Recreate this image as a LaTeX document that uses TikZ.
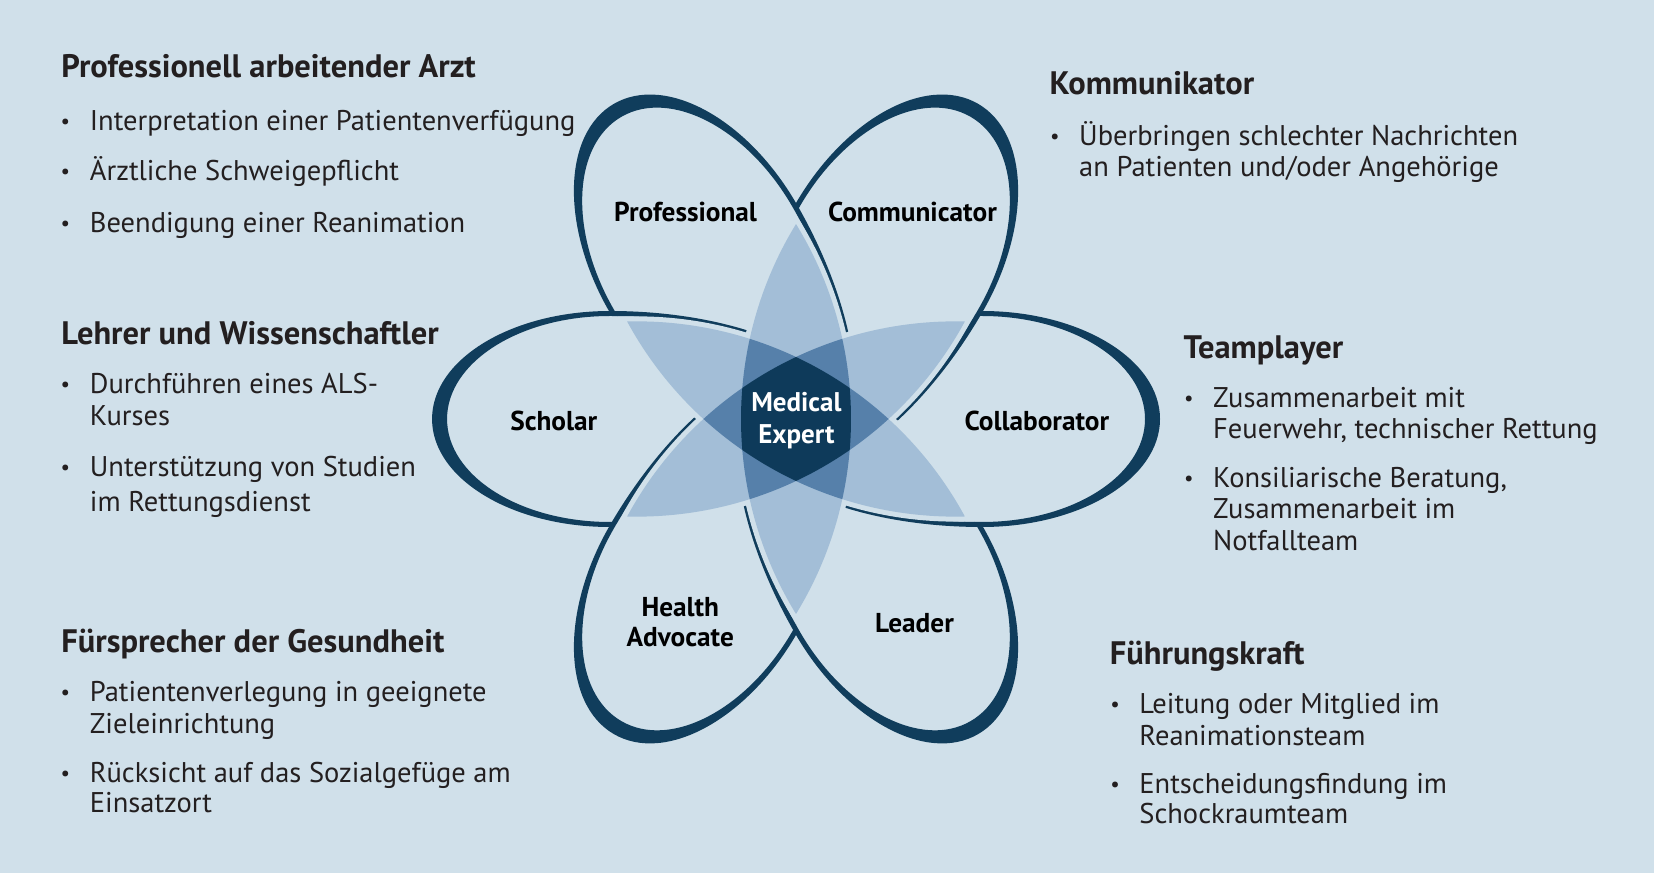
\documentclass[tikz,border=0pt]{standalone}
\usepackage{fontspec}
\setmainfont{PT Sans}
\definecolor{bg}{RGB}{208,224,234}
\definecolor{ol}{RGB}{16,61,92}
\definecolor{lt}{RGB}{163,190,215}
\definecolor{md}{RGB}{86,128,170}
\definecolor{dk}{RGB}{14,58,90}
\definecolor{tx}{RGB}{35,31,32}
\newcommand{\petalpath}{%
 (364,0) arc[start angle=0,end angle=90,x radius=178,y radius=108]
 arc[start angle=90,end angle=140.8,x radius=240,y radius=108]
 arc[start angle=39.2,end angle=90,x radius=240,y radius=108]
 arc[start angle=90,end angle=180,x radius=178,y radius=108]
 arc[start angle=180,end angle=270,x radius=178,y radius=108]
 arc[start angle=270,end angle=320.8,x radius=240,y radius=108]
 arc[start angle=219.2,end angle=270,x radius=240,y radius=108]
 arc[start angle=270,end angle=360,x radius=178,y radius=108] -- cycle
 (349,0) arc[start angle=0,end angle=90,x radius=163,y radius=103]
 arc[start angle=90,end angle=140.8,x radius=240,y radius=103]
 arc[start angle=39.2,end angle=90,x radius=240,y radius=103]
 arc[start angle=90,end angle=180,x radius=163,y radius=103]
 arc[start angle=180,end angle=270,x radius=163,y radius=103]
 arc[start angle=270,end angle=320.8,x radius=240,y radius=103]
 arc[start angle=219.2,end angle=270,x radius=240,y radius=103]
 arc[start angle=270,end angle=360,x radius=163,y radius=103] -- cycle}
\newcommand{\lenspath}{(-195,0) arc[start angle=121.5,end angle=58.5,radius=373.2] arc[start angle=-58.5,end angle=-121.5,radius=373.2] -- cycle}
\newcommand{\wedgeclip}{(0,0) -- (-90:900) -- (-30:900) -- (30:900) -- cycle (0,0) -- (90:900) -- (150:900) -- (210:900) -- cycle}
\tikzset{
 head/.style={font=\fontsize{32.5}{38}\selectfont\bfseries, text=tx, anchor=base west, inner sep=0},
 body/.style={font=\fontsize{28.5}{34}\selectfont, text=tx, anchor=base west, inner sep=0},
 bul/.style={font=\fontsize{21}{24}\selectfont, text=tx, anchor=base, inner sep=0, yshift=2},
 lab/.style={font=\fontsize{27.3}{30.5}\selectfont\bfseries, text=black, align=center, inner sep=0},
 mid/.style={font=\fontsize{27}{31.5}\selectfont\bfseries, text=white, align=center, inner sep=0},
}
\begin{document}
\begin{tikzpicture}[x=1pt,y=1pt]
\useasboundingbox (0,0) rectangle (1654,873);
\fill[bg] (0,0) rectangle (1654,873);
\coordinate (C) at (796,454);
% woven outlines
\foreach \k in {0,1,2}{
 \begin{scope}[shift={(C)}, rotate=60*\k]
  \clip \wedgeclip;
  \fill[ol, even odd rule] \petalpath;
 \end{scope}
}
% star
\begin{scope}[shift={(C)}]
 \foreach \a in {90,30,-30}{ \draw[bg, line width=10, line join=round, rotate=\a] \lenspath; }
 \foreach \a in {90,30,-30}{ \fill[lt, rotate=\a] \lenspath; }
 \begin{scope} \clip[rotate=90] \lenspath; \fill[md, rotate=30] \lenspath; \fill[md, rotate=-30] \lenspath; \end{scope}
 \begin{scope} \clip[rotate=30] \lenspath; \fill[md, rotate=-30] \lenspath; \end{scope}
 \begin{scope} \clip[rotate=90] \lenspath; \clip[rotate=30] \lenspath; \fill[dk, rotate=-30] \lenspath; \end{scope}
\end{scope}
% petal labels
\node[lab] (prof) at (685.6,661) {Professional};
\node[lab] (comm) at (912.4,661) {Communicator};
\node[lab] (scho) at (553.8,452.1) {Scholar};
\node[lab] (coll) at (1036.9,452.1) {Collaborator};
\node[lab] (heal) at (680.3,250.7) {Health\\Advocate};
\node[lab] (lead) at (914.5,249.6) {Leader};
\node[mid] (medx) at (796.4,452.5) {Medical\\Expert};
% left column
\node[head] (h1) at (61.2,795.4) {Professionell arbeitender Arzt};
\node[bul] (b11) at (65.4,742.6) {•}; \node[body] (t11) at (89.7,742.6) {Interpretation einer Patientenverfügung};
\node[bul] (b12) at (65.4,692) {•}; \node[body] (t12) at (89.7,692) {Ärztliche Schweigepflicht};
\node[bul] (b13) at (65.4,640.3) {•}; \node[body] (t13) at (89.7,640.3) {Beendigung einer Reanimation};
\node[head] (h2) at (61.2,528.5) {Lehrer und Wissenschaftler};
\node[bul] (b21) at (65.4,479) {•}; \node[body] (t21) at (89.7,479) {Durchführen eines ALS-};
\node[body] (t21b) at (89.7,447.3) {Kurses};
\node[bul] (b22) at (65.4,396.7) {•}; \node[body] (t22) at (89.7,396.7) {Unterstützung von Studien};
\node[body] (t22b) at (89.7,361.9) {im Rettungsdienst};
\node[head] (h3) at (61.2,220.5) {Fürsprecher der Gesundheit};
\node[bul] (b31) at (65.4,171) {•}; \node[body] (t31) at (89.7,171) {Patientenverlegung in geeignete};
\node[body] (t31b) at (89.7,139.3) {Zieleinrichtung};
\node[bul] (b32) at (65.4,90.8) {•}; \node[body] (t32) at (89.7,90.8) {Rücksicht auf das Sozialgefüge am};
\node[body] (t32b) at (89.7,60.2) {Einsatzort};
% right column
\node[head] (h4) at (1049.5,778.5) {Kommunikator};
\node[bul] (b41) at (1054.8,727.9) {•}; \node[body] (t41) at (1079,727.9) {Überbringen schlechter Nachrichten};
\node[body] (t41b) at (1079,696.2) {an Patienten und/oder Angehörige};
\node[head] (h5) at (1183.5,514.8) {Teamplayer};
\node[bul] (b51) at (1188.8,465.2) {•}; \node[body] (t51) at (1213,465.2) {Zusammenarbeit mit};
\node[body] (t51b) at (1213,434.6) {Feuerwehr, technischer Rettung};
\node[bul] (b52) at (1188.8,385) {•}; \node[body] (t52) at (1213,385) {Konsiliarische Beratung,};
\node[body] (t52b) at (1213,354.5) {Zusammenarbeit im};
\node[body] (t52c) at (1213,322.8) {Notfallteam};
\node[head] (h6) at (1109.7,208.9) {Führungskraft};
\node[bul] (b61) at (1115,159.3) {•}; \node[body] (t61) at (1139.2,159.3) {Leitung oder Mitglied im};
\node[body] (t61b) at (1139.2,127.7) {Reanimationsteam};
\node[bul] (b62) at (1115,79.2) {•}; \node[body] (t62) at (1139.2,79.2) {Entscheidungsfindung im};
\node[body] (t62b) at (1139.2,49.6) {Schockraumteam};
\end{tikzpicture}
\end{document}
